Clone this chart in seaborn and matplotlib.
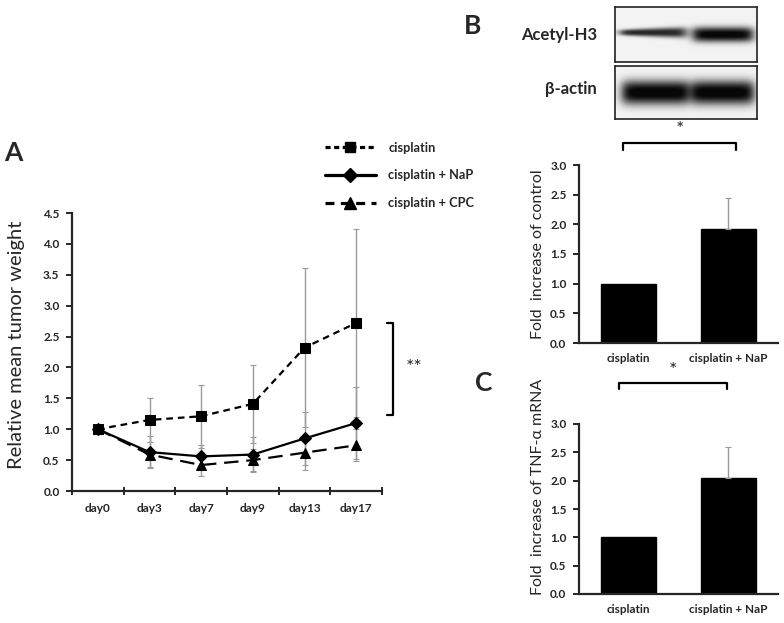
import numpy as np
import matplotlib
matplotlib.use("Agg")
import matplotlib.pyplot as plt
import seaborn as sns
from matplotlib.lines import Line2D

# ---- data ----
days = ["day0", "day3", "day7", "day9", "day13", "day17"]
cis_mean = [1.00, 1.15, 1.21, 1.41, 2.32, 2.72]
cis_err = [0.00, 0.35, 0.51, 0.63, 1.29, 1.52]
nap_mean = [1.00, 0.63, 0.56, 0.59, 0.85, 1.10]
nap_err = [0.00, 0.26, 0.18, 0.28, 0.43, 0.58]
cpc_mean = [1.00, 0.59, 0.42, 0.50, 0.62, 0.74]
cpc_err = [0.00, 0.20, 0.18, 0.18, 0.28, 0.26]

groups = ["cisplatin", "cisplatin + NaP"]
acetyl_fold = [1.00, 1.92]
acetyl_err = [0.00, 0.52]
tnf_fold = [1.00, 2.04]
tnf_err = [0.00, 0.56]

# relative darkness of the western blot bands (cisplatin, cisplatin + NaP)
acetyl_band = [0.80, 0.95]
actin_band = [0.97, 0.97]

sns.set_theme(style="ticks")
plt.rcParams["font.family"] = ["Lato", "DejaVu Sans"]
plt.rcParams["axes.linewidth"] = 1.6

W, H = 784, 623
fig = plt.figure(figsize=(W / 100, H / 100), dpi=100)


def px_axes(x0, y0, x1, y1):
    return fig.add_axes([x0 / W, 1 - y1 / H, (x1 - x0) / W, (y1 - y0) / H])


tick_font = {"fontsize": 8.5, "fontweight": "bold"}

# ---- panel A: tumor weight time course ----
ax_a = px_axes(72, 213, 382, 491)
x = np.arange(len(days))
series = [
    ("cisplatin", cis_mean, cis_err, "s", 6.5, (0, (3.0, 2.2)), (0, (1.6, 1.1))),
    ("cisplatin + NaP", nap_mean, nap_err, "D", 6.0, "-", "-"),
    ("cisplatin + CPC", cpc_mean, cpc_err, "^", 7.0, (0, (6.5, 3.5)), (0, (2.8, 2.0))),
]
for name, mean, err, mk, ms, ls, lls in series:
    ax_a.errorbar(x, mean, yerr=err, fmt="none", ecolor="#9a9a9a",
                  elinewidth=1.0, capsize=2, capthick=0.8, zorder=1)
for name, mean, err, mk, ms, ls, lls in series:
    sns.lineplot(x=x, y=mean, ax=ax_a, color="black", marker=mk,
                 markersize=ms, markeredgecolor="black", linewidth=1.6,
                 linestyle=ls, errorbar=None, zorder=3)

ax_a.set_xlim(-0.5, 5.5)
ax_a.set_ylim(0, 4.5)
ax_a.set_yticks(np.arange(0, 4.51, 0.5))
ax_a.set_yticklabels([f"{v:.1f}" for v in np.arange(0, 4.51, 0.5)], **tick_font)
ax_a.set_xticks(x)
ax_a.set_xticklabels(days, **tick_font)
ax_a.set_xticks(np.arange(-0.5, 6.0, 1.0), minor=True)
ax_a.tick_params(axis="x", which="major", length=0, pad=9)
ax_a.tick_params(axis="x", which="minor", length=6, width=1.4, direction="inout")
ax_a.tick_params(axis="y", length=4, width=1.4, pad=5)
ax_a.set_xlabel("")
ax_a.set_ylabel("Relative mean tumor weight", fontsize=14.5)
ax_a.yaxis.set_label_coords(-0.15, 0.525)
sns.despine(ax=ax_a)

# significance bracket
ax_a.plot([5.6, 5.72, 5.72, 5.6], [2.72, 2.72, 1.23, 1.23], color="black",
          lw=1.6, clip_on=False)
ax_a.text(6.12, 2.0, "**", fontsize=14, ha="center", va="center")

handles = [Line2D([], [], color="black", marker=mk, markersize=ms + 1.3,
                  linestyle=lls, linewidth=2.3)
           for name, mean, err, mk, ms, ls, lls in series]
fig.legend(handles, [s[0] for s in series], loc="upper left",
           bbox_to_anchor=(313 / W, 1 - 130 / H), frameon=False,
           handlelength=4.0, handletextpad=1.0, labelspacing=1.25,
           prop={"weight": "bold", "size": 9.2})

fig.text(13 / W, 1 - 153 / H, "A", fontsize=19, fontweight="bold",
         ha="center", va="center")

# ---- panel B: western blot + acetyl-H3 quantification ----
def blot_image(w, h, bands):
    yy, xx = np.mgrid[0:h, 0:w].astype(float)
    img = np.full((h, w), 0.95)
    for x0, x1, yc, hh0, hh1, strength in bands:
        fx = 1 / (1 + np.exp(-(xx - x0) / 3.0)) / (1 + np.exp((xx - x1) / 3.0))
        hh = hh0 + (hh1 - hh0) * np.clip((xx - x0) / (x1 - x0), 0, 1)
        fy = np.exp(-np.abs((yy - yc) / hh) ** 2.5)
        img = img - strength * fx * fy
    return np.clip(img, 0.03, 1)


blot1 = px_axes(615, 7, 757, 62)
blot1.imshow(blot_image(142, 55, [(5, 70, 25, 3.0, 5.5, acetyl_band[0]),
                                  (78, 137, 27, 7.5, 7.5, acetyl_band[1])]),
             cmap="gray", vmin=0, vmax=1, aspect="auto")
blot2 = px_axes(615, 66, 757, 119)
blot2.imshow(blot_image(142, 53, [(7, 73, 26, 12, 12, actin_band[0]),
                                  (76, 138, 26, 12, 12, actin_band[1])]),
             cmap="gray", vmin=0, vmax=1, aspect="auto")
for b in (blot1, blot2):
    b.set_xticks([])
    b.set_yticks([])
    for sp in b.spines.values():
        sp.set_linewidth(1.2)
        sp.set_color("#222222")

fig.text(597 / W, 1 - 35 / H, "Acetyl-H3", fontsize=12, fontweight="bold",
         ha="right", va="center")
fig.text(597 / W, 1 - 89 / H, "\u03b2-actin", fontsize=12, fontweight="bold",
         ha="right", va="center")
fig.text(473 / W, 1 - 26 / H, "B", fontsize=19, fontweight="bold",
         ha="center", va="center")


def bar_panel(ax, vals, errs, ylabel, label_y, bracket_x, bracket_y, star_x):
    sns.barplot(x=groups, y=vals, ax=ax, color="black", saturation=1,
                width=0.55, edgecolor="black")
    idx = [i for i, e in enumerate(errs) if e > 0]
    ax.errorbar(idx, [vals[i] for i in idx],
                yerr=[[0] * len(idx), [errs[i] for i in idx]],
                fmt="none", ecolor="#9a9a9a", elinewidth=1.0, capsize=2,
                capthick=0.8)
    ax.set_xlim(-0.5, 1.5)
    ax.set_ylim(0, 3)
    ticks = np.arange(0, 3.01, 0.5)
    ax.set_yticks(ticks)
    ax.set_yticklabels([f"{v:.1f}" for v in ticks], **tick_font)
    ax.set_xticks(range(len(groups)))
    ax.set_xticklabels(groups, **tick_font)
    ax.tick_params(axis="x", length=0, pad=7)
    ax.tick_params(axis="y", length=4, width=1.4, pad=5)
    ax.set_xlabel("")
    ax.set_ylabel(ylabel, fontsize=11.5)
    ax.yaxis.set_label_coords(-0.17, label_y)
    sns.despine(ax=ax)
    x0, x1 = bracket_x
    ax.plot([x0, x0, x1, x1], [bracket_y - 0.11, bracket_y, bracket_y,
                               bracket_y - 0.11],
            color="black", lw=1.6, clip_on=False)
    ax.text(star_x, bracket_y + 0.22, "*", fontsize=14, ha="center",
            va="center")


ax_b = px_axes(579, 165, 778, 343)
bar_panel(ax_b, acetyl_fold, acetyl_err, "Fold  increase of control", 0.5,
          (-0.06, 1.08), 3.37, 0.51)

# ---- panel C: TNF-alpha mRNA ----
ax_c = px_axes(579, 424, 778, 594)
bar_panel(ax_c, tnf_fold, tnf_err, "Fold  increase of TNF-\u03b1 mRNA", 0.63,
          (-0.1, 0.99), 3.72, 0.44)
fig.text(484 / W, 1 - 383 / H, "C", fontsize=19, fontweight="bold",
         ha="center", va="center")

fig.savefig("out.png", dpi=100, facecolor="white")
